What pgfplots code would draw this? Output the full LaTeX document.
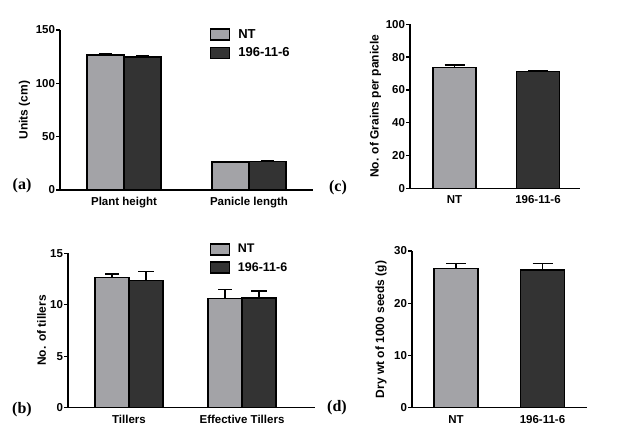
\documentclass[border=0pt]{standalone}
\usepackage{fontspec}
\setmainfont{Liberation Sans}
\newfontfamily\serifbf{Liberation Serif}
\usepackage{pgfplots}
\pgfplotsset{compat=1.18}
\definecolor{ntgray}{HTML}{A3A3A7}
\definecolor{tdark}{HTML}{333333}

\pgfplotsset{
  panel/.style={
    scale only axis, anchor=south west, clip=false,
    axis x line*=bottom, axis y line*=left,
    axis line style={line width=1.5pt, black},
    ymin=0, xmin=0, ybar,
    tick align=outside, major tick length=4pt,
    ytick style={line width=1.3pt, black},
    xtick style={draw=none},
    /pgf/number format/assume math mode=true,
    tick label style={font=\bfseries\fontsize{11.5}{13}\selectfont},
    yticklabel style={inner sep=0.8pt},
    every axis y label/.style={at={(axis description cs:0,0.5)}, xshift=-#1, rotate=90,
      anchor=center, font=\bfseries\fontsize{12}{14}\selectfont},
    legend style={draw=none, fill=none, font=\bfseries\fontsize{12.5}{14}\selectfont,
      row sep=4pt, cells={anchor=west}},
    legend image code/.code={\draw[##1] (0pt,-5.5pt) rectangle (19pt,5.5pt);
      \path (25pt,0pt);},
  },
  nt/.style={fill=ntgray, draw=black, line width=1.4pt,
    error bars/y dir=plus, error bars/y explicit,
    error bars/error bar style={line width=1.5pt, black},
    error bars/error mark options={black, line width=1.5pt, rotate=90, mark size=#1}},
  tg/.style={fill=tdark, draw=black, line width=1.4pt,
    error bars/y dir=plus, error bars/y explicit,
    error bars/error bar style={line width=1.5pt, black},
    error bars/error mark options={black, line width=1.5pt, rotate=90, mark size=#1}},
}

\begin{document}
\begin{tikzpicture}[x=1pt,y=1pt]
\useasboundingbox (0,0) rectangle (624,437);

% (a) plant height / panicle length
\begin{axis}[panel=35.5pt, at={(60pt,247pt)}, width=253pt, height=160pt,
  xmax=253, ymax=150, ytick={0,50,100,150},
  xtick={64,189}, xticklabels={Plant height, Panicle length},
  ylabel={Units (cm)},
  legend style={at={(0.58,1.03)}, anchor=north west, font=\bfseries\fontsize{13}{15}\selectfont}]
\addplot[nt=6.5pt, bar width=37, bar shift=-18.5] coordinates {(64,126.7) +- (0,1.5) (189,26.1) +- (0,0.8)};
\addlegendentry{NT}
\addplot[tg=6.5pt, bar width=37, bar shift=18.5] coordinates {(64,124.8) +- (0,0.6) (189,26.5) +- (0,0.7)};
\addlegendentry{196-11-6}
\end{axis}

% (b) tillers
\begin{axis}[panel=26.5pt, at={(68pt,29.3pt)}, width=247pt, height=154.4pt,
  xmax=247, ymax=15, ytick={0,5,10,15},
  xtick={61,174}, xticklabels={Tillers, Effective Tillers},
  ylabel={No. of tillers},
  legend style={at={(0.56,1.085)}, anchor=north west}]
\addplot[nt=7pt, bar width=34, bar shift=-17] coordinates {(61,12.67) +- (0,0.32) (174,10.63) +- (0,0.87)};
\addlegendentry{NT}
\addplot[tg=8pt, bar width=34, bar shift=17] coordinates {(61,12.34) +- (0,0.87) (174,10.66) +- (0,0.68)};
\addlegendentry{196-11-6}
\end{axis}

% (c) grains per panicle
\begin{axis}[panel=34.5pt, at={(410pt,248.7pt)}, width=170pt, height=164pt,
  xmax=170, ymax=100, ytick={0,20,40,60,80,100},
  xtick={44.5,128}, xticklabels={NT, 196-11-6},
  ylabel={No. of Grains per panicle}]
\addplot[nt=10pt, bar width=43, bar shift=0] coordinates {(44.5,73.7) +- (0,1.6)};
\addplot[tg=10pt, bar width=43, bar shift=0] coordinates {(128,71.1) +- (0,0.6)};
\end{axis}

% (d) 1000 seed weight
\begin{axis}[panel=31pt, at={(412pt,29.3pt)}, width=175pt, height=156.7pt,
  xmax=175, ymax=30, ytick={0,10,20,30},
  xtick={44,130.5}, xticklabels={NT, 196-11-6},
  ylabel={Dry wt of 1000 seeds (g)}]
\addplot[nt=10pt, bar width=44, bar shift=0] coordinates {(44,26.7) +- (0,0.87)};
\addplot[tg=10pt, bar width=44, bar shift=0] coordinates {(130.5,26.36) +- (0,1.2)};
\end{axis}

\node[font=\serifbf\bfseries\fontsize{16}{18}\selectfont] at (22,251) {(a)};
\node[font=\serifbf\bfseries\fontsize{16}{18}\selectfont] at (22,27) {(b)};
\node[font=\serifbf\bfseries\fontsize{16}{18}\selectfont] at (338,249) {(c)};
\node[font=\serifbf\bfseries\fontsize{16}{18}\selectfont] at (337,29) {(d)};
\end{tikzpicture}
\end{document}
